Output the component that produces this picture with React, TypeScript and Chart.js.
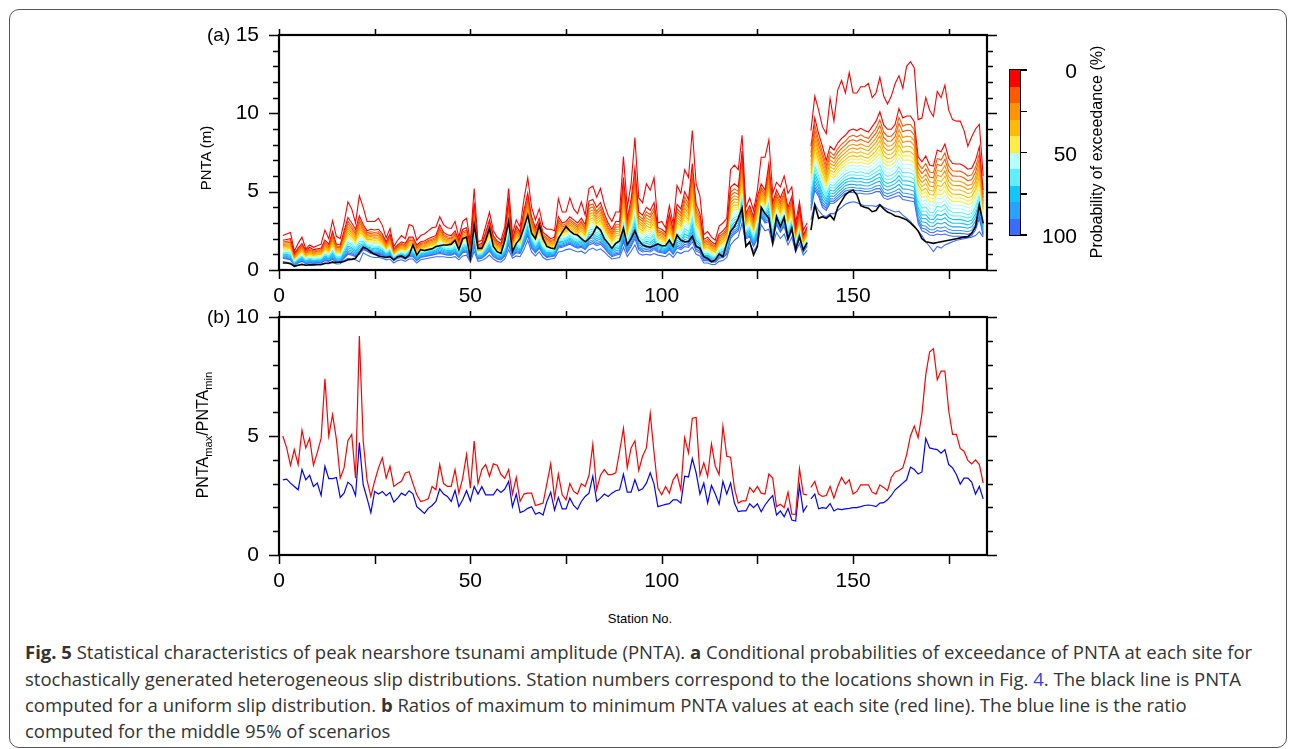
import React, { useEffect, useRef } from 'react';
import { Chart, registerables } from 'chart.js';

Chart.register(...registerables);

// ---------------- data ----------------
// stations are numbered 1..184; the curves break between station 138 and 139
const BREAK_AFTER = 138;
const X_MAX = 185;
const X_TICKS = [0, 25, 50, 75, 100, 125, 150, 175];
const X_LABELS = [0, 50, 100, 150];
const Y_TICKS_A = [0, 1, 2, 3, 4, 5, 6, 7, 8, 9, 10, 11, 12, 13, 14, 15];
const Y_LABELS_A = [0, 5, 10, 15];
const Y_TICKS_B = [0, 1, 2, 3, 4, 5, 6, 7, 8, 9, 10];
const Y_LABELS_B = [0, 5, 10];
const COLORBAR_LABELS = ['0', '50', '100'];

// panel (a): PNTA (m) — 0 % exceedance (maximum)
const MAX_PNTA = [
  2.2, 2.3, 2.4, 1.2, 1.7, 2.1, 1.35, 1.6, 1.45, 1.55,
  1.65, 2.55, 2.0, 3.15, 2.15, 2.0, 3.0, 4.35, 3.9, 3.0,
  4.75, 4.0, 3.1, 3.1, 3.1, 3.3, 2.85, 2.05, 2.65, 1.5,
  1.9, 2.2, 2.0, 2.9, 2.8, 1.9, 2.2, 2.3, 2.5, 2.7,
  2.75, 3.4, 2.9, 2.7, 2.65, 3.1, 2.1, 3.1, 3.3, 1.8,
  5.2, 1.8, 1.9, 2.8, 3.7, 2.5, 2.1, 1.9, 2.75, 5.2,
  2.3, 3.2, 2.75, 4.5, 5.9, 4.0, 3.2, 3.9, 2.8, 2.6,
  2.6, 2.5, 4.55, 3.7, 3.7, 4.6, 3.9, 3.6, 4.35, 3.5,
  5.2, 5.35, 4.65, 5.2, 4.2, 3.5, 3.1, 3.7, 3.7, 7.25,
  4.0, 5.5, 8.45, 4.6, 4.3, 5.5, 5.1, 5.9, 3.0, 3.1,
  2.7, 4.1, 2.95, 5.4, 4.9, 6.4, 5.9, 8.9, 5.5, 4.7,
  2.25, 2.45, 2.1, 1.9, 2.8, 3.0, 3.3, 6.4, 6.7, 6.4,
  8.6, 4.0, 4.6, 3.8, 5.1, 7.2, 7.2, 8.3, 4.9, 5.6,
  5.3, 6.0, 4.9, 5.3, 3.0, 4.35, 2.55, 3.0,
  8.9, 11.1, 10.2, 9.15, 8.7, 10.95, 9.5, 11.5, 12.1, 11.3,
  12.6, 11.3, 11.3, 11.7, 11.7, 11.9, 11.0, 11.3, 12.3, 11.1,
  10.6, 11.1, 11.9, 12.4, 11.6, 13.0, 13.3, 12.9, 9.6, 9.7,
  11.0, 10.2, 9.8, 11.4, 11.0, 11.8, 10.2, 9.6, 9.5, 9.5,
  8.9, 7.9, 8.5, 9.0, 9.3, 6.0,
];

// 5 % exceedance
const P5_PNTA = [
  1.9, 1.95, 2.0, 1.05, 1.4, 1.7, 1.25, 1.45, 1.3, 1.35,
  1.4, 1.9, 1.65, 2.45, 1.65, 1.6, 2.5, 3.35, 3.0, 2.6,
  3.45, 2.9, 2.5, 2.6, 2.55, 2.6, 2.3, 1.8, 2.3, 1.35,
  1.6, 1.8, 1.7, 2.1, 2.1, 1.6, 1.8, 1.85, 2.0, 2.1,
  2.2, 2.9, 2.4, 2.25, 2.2, 2.5, 1.9, 2.6, 2.7, 1.6,
  4.3, 1.6, 1.7, 2.4, 3.2, 2.2, 1.85, 1.7, 2.4, 4.5,
  2.0, 2.8, 2.4, 3.8, 4.9, 3.4, 2.7, 3.3, 2.4, 2.2,
  2.0, 2.1, 3.4, 3.0, 3.1, 3.4, 3.2, 3.0, 3.3, 2.9,
  4.4, 4.5, 4.0, 4.3, 3.6, 3.0, 2.6, 3.1, 3.1, 5.9,
  3.3, 4.5, 6.5, 3.7, 3.5, 4.0, 3.8, 4.3, 2.7, 2.6,
  2.4, 3.6, 2.6, 4.2, 3.9, 5.0, 4.5, 6.8, 4.2, 3.6,
  1.95, 2.1, 1.8, 1.65, 2.3, 2.5, 2.8, 5.3, 5.5, 5.3,
  7.6, 3.6, 4.1, 3.4, 4.7, 5.5, 5.1, 6.8, 4.3, 5.1,
  4.6, 5.2, 4.0, 4.7, 2.66, 4.0, 2.23, 2.77,
  7.9, 9.7, 8.7, 7.9, 7.0, 7.9, 7.66, 8.1, 8.4, 8.6,
  8.9, 9.0, 8.9, 9.04, 8.9, 8.8, 9.15, 9.5, 10.1, 9.26,
  8.98, 8.98, 9.3, 10.3, 9.7, 9.83, 9.83, 9.47, 7.23, 6.9,
  7.28, 6.7, 6.64, 7.66, 7.55, 8.04, 7.13, 6.8, 6.77, 6.77,
  6.64, 6.43, 6.5, 7.0, 7.87, 5.1,
];

// 95 % exceedance
const P95_PNTA = [
  0.75, 0.7, 0.65, 0.3, 0.45, 0.55, 0.4, 0.45, 0.42, 0.45,
  0.45, 0.6, 0.55, 0.68, 0.5, 0.5, 0.75, 1.0, 0.95, 0.85,
  1.0, 1.3, 1.2, 1.05, 1.0, 1.0, 0.95, 0.8, 0.9, 0.6,
  0.75, 0.8, 0.7, 0.85, 0.85, 0.6, 0.8, 0.85, 0.9, 0.95,
  1.0, 1.05, 1.0, 0.95, 0.95, 1.05, 0.8, 1.1, 1.15, 0.6,
  1.5, 0.7, 0.75, 0.95, 1.2, 0.85, 0.7, 0.65, 0.9, 1.6,
  0.9, 1.1, 1.05, 1.6, 2.2, 1.4, 1.1, 1.4, 1.0, 0.8,
  0.85, 0.9, 1.4, 1.45, 1.55, 1.65, 1.5, 1.4, 1.45, 1.3,
  1.6, 1.7, 1.55, 1.65, 1.4, 1.1, 0.85, 0.95, 1.0, 1.8,
  1.1, 1.5, 2.0, 1.3, 1.15, 1.2, 1.15, 1.3, 1.15, 1.1,
  1.05, 1.3, 1.0, 1.4, 1.3, 1.5, 1.45, 1.8, 1.2, 1.1,
  0.6, 0.6, 0.5, 0.5, 0.75, 0.8, 1.0, 2.0, 2.3, 2.5,
  3.6, 2.0, 2.1, 1.5, 2.0, 3.4, 3.0, 3.1, 1.9, 2.9,
  2.4, 2.8, 1.9, 2.5, 1.4, 2.0, 1.15, 1.5,
  3.8, 5.1, 4.7, 4.0, 3.8, 4.26, 4.26, 4.47, 4.68, 4.9,
  4.95, 4.95, 4.9, 4.9, 4.85, 4.85, 4.9, 5.0, 5.0, 4.6,
  4.5, 4.6, 4.68, 4.75, 4.5, 4.45, 4.4, 4.36, 3.0, 2.5,
  2.4, 2.23, 2.2, 2.3, 2.25, 2.3, 2.2, 2.15, 2.15, 2.15,
  2.13, 2.1, 2.2, 2.55, 3.3, 2.2,
];

// 100 % exceedance (minimum)
const MIN_PNTA = [
  0.55, 0.5, 0.45, 0.2, 0.3, 0.4, 0.3, 0.32, 0.32, 0.33,
  0.33, 0.4, 0.4, 0.5, 0.38, 0.4, 0.6, 0.75, 0.7, 0.65,
  0.52, 1.1, 0.95, 0.85, 0.8, 0.8, 0.75, 0.65, 0.7, 0.45,
  0.6, 0.65, 0.55, 0.7, 0.7, 0.45, 0.65, 0.7, 0.75, 0.8,
  0.85, 0.85, 0.85, 0.8, 0.8, 0.85, 0.65, 0.9, 0.95, 0.5,
  1.2, 0.55, 0.6, 0.75, 0.95, 0.7, 0.55, 0.5, 0.7, 1.3,
  0.75, 0.9, 0.85, 1.3, 1.9, 1.15, 0.9, 1.15, 0.8, 0.65,
  0.7, 0.75, 1.15, 1.2, 1.3, 1.35, 1.25, 1.15, 1.2, 1.05,
  1.3, 1.4, 1.25, 1.35, 1.15, 0.9, 0.7, 0.75, 0.8, 1.45,
  0.85, 1.2, 1.6, 1.05, 0.95, 1.0, 0.95, 1.05, 0.95, 0.9,
  0.85, 1.05, 0.8, 1.15, 1.05, 1.2, 1.2, 1.45, 1.0, 0.9,
  0.45, 0.45, 0.35, 0.35, 0.55, 0.6, 0.8, 1.6, 1.9, 2.1,
  3.0, 1.6, 1.7, 1.2, 1.6, 2.9, 2.5, 2.6, 1.6, 2.4,
  2.0, 2.3, 1.6, 2.1, 1.15, 1.7, 0.95, 1.25,
  3.2, 4.2, 3.8, 3.5, 3.4, 3.6, 3.6, 3.8, 4.0, 4.2,
  4.3, 4.36, 4.3, 4.2, 4.1, 4.1, 4.1, 4.05, 4.2, 4.0,
  3.9, 3.8, 3.7, 3.75, 3.5, 3.3, 3.1, 2.8, 2.5, 2.2,
  1.8, 1.5, 1.17, 1.5, 1.4, 1.6, 1.7, 1.8, 1.9, 1.95,
  2.0, 2.05, 2.1, 2.2, 2.45, 2.1,
];

// PNTA for a uniform slip distribution (black line)
const UNIFORM_PNTA = [
  0.45, 0.45, 0.4, 0.25, 0.3, 0.35, 0.3, 0.33, 0.33, 0.35,
  0.35, 0.43, 0.45, 0.5, 0.48, 0.5, 0.55, 0.65, 0.68, 0.75,
  1.1, 1.45, 1.35, 1.15, 1.0, 0.9, 0.85, 0.8, 0.85, 0.65,
  0.85, 0.9, 0.75, 0.95, 1.6, 0.95, 1.3, 1.25, 1.3, 1.35,
  1.5, 1.55, 1.6, 1.6, 1.65, 1.9, 1.3, 2.0, 2.1, 0.75,
  2.87, 1.38, 1.38, 1.9, 2.66, 1.5, 1.17, 1.06, 1.9, 3.1,
  1.17, 1.7, 2.0, 2.7, 3.5, 2.34, 2.0, 2.87, 2.0, 1.5,
  1.4, 1.35, 2.0, 2.4, 2.77, 2.5, 2.3, 2.23, 2.0, 1.8,
  2.0, 2.3, 2.77, 2.55, 2.0, 1.7, 1.38, 1.7, 1.85, 2.66,
  1.6, 2.0, 2.5, 1.9, 1.6, 1.5, 1.45, 1.55, 1.66, 1.55,
  1.55, 1.9, 1.5, 2.23, 1.9, 1.8, 1.8, 2.17, 1.5, 1.38,
  0.85, 0.74, 0.53, 0.64, 1.02, 0.85, 1.7, 2.45, 2.77, 3.3,
  3.94, 1.5, 1.8, 0.96, 1.5, 4.0, 3.6, 3.3, 1.74, 3.4,
  2.77, 3.36, 2.0, 2.66, 1.28, 2.13, 1.28, 1.74,
  2.55, 4.15, 3.3, 3.4, 3.3, 3.5, 3.2, 4.0, 4.4, 4.8,
  5.0, 5.1, 4.8, 4.1, 4.0, 3.94, 3.72, 3.8, 4.15, 3.9,
  3.7, 3.6, 3.45, 3.4, 3.3, 3.2, 3.0, 2.77, 2.5, 2.0,
  1.8, 1.75, 1.7, 1.75, 1.8, 1.85, 1.9, 1.95, 2.0, 2.05,
  2.1, 2.13, 2.34, 2.77, 4.15, 2.98,
];

// relative position of the 10 %..90 % curves between the 5 % and 95 % curves
// (read off the well separated curves near station 150)
const QUANTILE_LEVELS = [10, 15, 20, 25, 30, 35, 40, 45, 50, 55, 60, 65, 70, 75, 80, 85, 90];
const QUANTILE_POS = [0.1, 0.17, 0.24, 0.3, 0.36, 0.42, 0.47, 0.52, 0.57, 0.62, 0.67, 0.72, 0.77, 0.82, 0.87, 0.92, 0.96];

// colour classes of the colour bar, 0-10 % ... 90-100 %
const CLASS_COLORS = [
  '#ff0000', '#ff5a00', '#ff9400', '#ffbb00', '#ffec40',
  '#b4ffff', '#5ef0ff', '#10c8ff', '#26a2ff', '#3a6cff',
];

// panel (b): ratio of maximum to minimum PNTA (red) and middle 95 % ratio (blue)
const RATIO_MAX_MIN = [
  5.0, 4.5, 3.77, 4.43, 3.8, 5.24, 4.5, 4.9, 3.77, 4.3,
  4.9, 7.4, 5.0, 5.9, 4.86, 3.23, 3.66, 4.8, 5.07, 3.23,
  9.2, 4.8, 3.16, 2.46, 3.1, 3.66, 4.08, 3.23, 3.73, 2.88,
  3.0, 3.1, 3.45, 3.5, 3.0, 2.53, 2.25, 2.29, 2.36, 2.88,
  2.74, 3.8, 3.0, 2.88, 2.88, 3.59, 2.6, 3.23, 4.22, 2.81,
  4.79, 3.0, 3.59, 3.8, 3.3, 3.83, 3.77, 3.38, 3.23, 3.59,
  2.56, 3.26, 2.25, 2.56, 2.6, 2.6, 2.08, 2.13, 2.18, 3.0,
  3.83, 2.39, 3.4, 2.53, 2.32, 3.0, 2.67, 2.56, 3.0, 2.88,
  3.35, 4.65, 2.74, 3.35, 3.59, 3.38, 3.38, 3.45, 4.36, 5.32,
  3.66, 4.5, 4.79, 3.55, 4.15, 4.5, 5.95, 4.3, 2.81, 2.53,
  2.88, 2.6, 3.16, 3.4, 2.74, 4.93, 4.29, 5.75, 5.78, 3.35,
  3.87, 3.3, 4.67, 3.73, 3.38, 5.41, 4.15, 4.11, 2.81, 2.18,
  2.27, 2.27, 2.84, 2.64, 2.88, 2.6, 2.56, 3.4, 3.23, 2.03,
  2.13, 1.99, 2.64, 1.72, 1.71, 3.63, 2.56, 2.53,
  2.84, 3.09, 2.56, 2.46, 2.5, 2.88, 2.39, 2.88, 3.26, 2.98,
  3.16, 2.56, 2.67, 2.95, 2.95, 2.95, 2.64, 2.56, 2.95, 2.84,
  2.7, 3.26, 3.49, 3.55, 3.66, 4.22, 5.0, 5.42, 4.93, 5.92,
  7.58, 8.53, 8.67, 7.36, 7.73, 7.73, 6.06, 5.07, 5.07, 4.48,
  4.36, 3.97, 3.83, 4.0, 3.8, 3.02,
];

const RATIO_MID95 = [
  3.16, 3.19, 3.02, 2.88, 2.74, 3.59, 3.16, 3.35, 2.88, 3.02,
  2.5, 3.73, 3.21, 3.21, 3.26, 2.42, 2.6, 3.06, 2.92, 2.5,
  4.72, 2.95, 2.39, 1.78, 2.67, 2.56, 2.67, 2.49, 2.63, 2.22,
  2.39, 2.6, 2.5, 2.7, 2.57, 2.03, 1.89, 1.75, 1.96, 2.08,
  2.25, 2.78, 2.56, 2.46, 2.25, 2.71, 2.03, 2.32, 2.7, 2.27,
  2.88, 2.56, 2.87, 2.53, 2.53, 2.53, 2.77, 2.63, 2.77, 3.09,
  2.03, 2.56, 1.78, 1.85, 1.96, 2.03, 1.71, 1.79, 1.68, 2.25,
  2.64, 1.89, 2.42, 1.94, 1.94, 2.39, 2.08, 1.92, 2.25, 2.46,
  2.6, 3.31, 2.25, 2.39, 2.56, 2.46, 2.6, 2.7, 2.74, 3.4,
  2.64, 2.64, 3.16, 2.7, 2.78, 3.02, 3.45, 2.98, 2.03, 2.08,
  2.13, 2.16, 2.32, 2.32, 2.18, 3.31, 3.28, 4.05, 3.45, 2.56,
  3.02, 2.18, 2.92, 2.56, 2.13, 3.09, 2.56, 3.02, 2.18, 1.82,
  1.85, 1.85, 2.15, 1.99, 2.15, 1.82, 2.1, 2.32, 2.5, 1.68,
  1.85, 1.61, 1.96, 1.47, 1.43, 2.92, 1.82, 2.08,
  2.36, 2.56, 1.94, 1.99, 1.96, 2.16, 1.85, 1.94, 1.91, 1.94,
  1.96, 1.99, 1.99, 2.03, 2.08, 2.1, 2.08, 2.03, 2.18, 2.2,
  2.32, 2.5, 2.74, 2.88, 3.02, 3.16, 3.69, 3.59, 3.4, 3.49,
  4.9, 4.5, 4.46, 4.43, 4.28, 4.43, 3.8, 3.66, 3.38, 2.98,
  3.23, 3.23, 3.06, 2.56, 2.88, 2.36,
];

// ---------------- helpers ----------------
const FONT = "'Liberation Sans', Arial, Helvetica, sans-serif";

function toPoints(values: number[]) {
  const pts: { x: number; y: number | null }[] = [];
  values.forEach((v, i) => {
    const station = i + 1;
    if (station === BREAK_AFTER + 1) pts.push({ x: BREAK_AFTER + 0.5, y: null });
    pts.push({ x: station, y: v });
  });
  return pts;
}

function classColor(level: number) {
  return CLASS_COLORS[Math.min(9, Math.floor(level / 10))];
}

function quantileCurve(k: number) {
  return P5_PNTA.map((v, i) => v + (P95_PNTA[i] - v) * QUANTILE_POS[k]);
}

const frameTicksPlugin = {
  id: 'frameTicks',
  afterDraw(chart: any, _args: any, opts: any) {
    const { ctx, chartArea: a, scales } = chart;
    const xs = scales.x;
    const ys = scales.y;
    ctx.save();
    ctx.strokeStyle = '#000';
    ctx.lineWidth = 1.5;
    ctx.beginPath();
    for (const v of opts.xTicks) {
      const px = Math.round(xs.getPixelForValue(v)) + 0.5;
      ctx.moveTo(px, a.top);
      ctx.lineTo(px, a.top - 6);
      ctx.moveTo(px, a.bottom);
      ctx.lineTo(px, a.bottom + 9);
    }
    for (const v of opts.yTicks) {
      const py = Math.round(ys.getPixelForValue(v)) + 0.5;
      const len = v % 5 === 0 ? 10 : 6;
      ctx.moveTo(a.left, py);
      ctx.lineTo(a.left - len, py);
      ctx.moveTo(a.right, py);
      ctx.lineTo(a.right + len, py);
    }
    ctx.stroke();
    ctx.lineWidth = 2.2;
    ctx.strokeRect(a.left, a.top, a.right - a.left, a.bottom - a.top);
    ctx.restore();
  },
};

function makeOptions(yMax: number, yLabels: number[], yTicks: number[], xHeight: number) {
  const tickFont = { family: FONT, size: 21 };
  return {
    responsive: false,
    maintainAspectRatio: false,
    animation: false,
    events: [],
    layout: { padding: { top: 15, right: 63, left: 0, bottom: 0 } },
    plugins: {
      legend: { display: false },
      tooltip: { enabled: false },
      frameTicks: { xTicks: X_TICKS, yTicks },
    },
    elements: { point: { radius: 0 }, line: { tension: 0 } },
    scales: {
      x: {
        type: 'linear',
        min: 0,
        max: X_MAX,
        grid: { display: false, drawTicks: false },
        border: { display: false },
        ticks: { padding: 14, font: tickFont, color: '#000', maxRotation: 0, autoSkip: false },
        afterBuildTicks: (s: any) => { s.ticks = X_LABELS.map((v) => ({ value: v })); },
        afterFit: (s: any) => {
          s.height = xHeight;
          s.paddingLeft = 0;
          s.paddingRight = 0;
        },
      },
      y: {
        type: 'linear',
        min: 0,
        max: yMax,
        grid: { display: false, drawTicks: false },
        border: { display: false },
        ticks: { padding: 20, font: tickFont, color: '#000', autoSkip: false },
        afterBuildTicks: (s: any) => { s.ticks = yLabels.map((v) => ({ value: v })); },
        afterFit: (s: any) => {
          s.width = 129;
          s.paddingTop = 0;
          s.paddingBottom = 0;
        },
      },
    },
  };
}

function buildPanelA() {
  const datasets: any[] = [];
  datasets.push({ data: toPoints(UNIFORM_PNTA), borderColor: '#000', borderWidth: 1.6 });
  datasets.push({ data: toPoints(MAX_PNTA), borderColor: classColor(0), borderWidth: 1.1 });
  datasets.push({ data: toPoints(P5_PNTA), borderColor: classColor(5), borderWidth: 1.1 });
  QUANTILE_LEVELS.forEach((lvl, k) => {
    datasets.push({ data: toPoints(quantileCurve(k)), borderColor: classColor(lvl), borderWidth: 1.1 });
  });
  datasets.push({ data: toPoints(P95_PNTA), borderColor: classColor(95), borderWidth: 1.1 });
  datasets.push({ data: toPoints(MIN_PNTA), borderColor: classColor(100), borderWidth: 1.1 });
  datasets.forEach((d) => { d.pointRadius = 0; d.fill = false; d.spanGaps = false; });
  return {
    type: 'line',
    data: { datasets },
    options: makeOptions(15, Y_LABELS_A, Y_TICKS_A, 50),
    plugins: [frameTicksPlugin],
  };
}

function buildPanelB() {
  const datasets: any[] = [
    { data: toPoints(RATIO_MAX_MIN), borderColor: '#ff0000', borderWidth: 1.2 },
    { data: toPoints(RATIO_MID95), borderColor: '#0000ff', borderWidth: 1.2 },
  ];
  datasets.forEach((d) => { d.pointRadius = 0; d.fill = false; d.spanGaps = false; });
  return {
    type: 'line',
    data: { datasets },
    options: makeOptions(10, Y_LABELS_B, Y_TICKS_B, 49),
    plugins: [frameTicksPlugin],
  };
}

function Rotated({ cx, cy, size, children }: { cx: number; cy: number; size: number; children: any }) {
  return (
    <div
      style={{
        position: 'absolute',
        left: cx,
        top: cy,
        transform: 'translate(-50%, -50%) rotate(-90deg)',
        whiteSpace: 'nowrap',
        fontFamily: FONT,
        fontSize: size,
        lineHeight: 1,
        color: '#000',
      }}
    >
      {children}
    </div>
  );
}

export default function App() {
  const refA = useRef<HTMLCanvasElement>(null);
  const refB = useRef<HTMLCanvasElement>(null);

  useEffect(() => {
    const a = new Chart(refA.current as HTMLCanvasElement, buildPanelA() as any);
    const b = new Chart(refB.current as HTMLCanvasElement, buildPanelB() as any);
    return () => {
      a.destroy();
      b.destroy();
    };
  }, []);

  const barTop = 70;
  const barH = 165;
  const capStyle: any = {
    position: 'absolute',
    left: 25,
    whiteSpace: 'nowrap',
    fontFamily: "'Open Sans', 'Noto Sans', sans-serif",
    fontSize: 18.5,
    color: '#333',
    lineHeight: '26px',
  };
  const capCenters = [652, 679, 705, 731];

  return (
    <div style={{ position: 'fixed', left: 0, top: 0, width: 1295, height: 749, background: '#fff', overflow: 'hidden' }}>
      <div
        style={{
          position: 'absolute', left: 9, top: 9, width: 1278, height: 739,
          border: '1px solid #555', borderRadius: 10, boxSizing: 'border-box',
        }}
      />
      <canvas ref={refA} width={900} height={300} style={{ position: 'absolute', left: 150, top: 20 }} />
      <canvas ref={refB} width={900} height={302} style={{ position: 'absolute', left: 150, top: 302 }} />

      <div style={{ position: 'absolute', left: 207, top: 25, fontFamily: FONT, fontSize: 19, lineHeight: '20px' }}>(a)</div>
      <div style={{ position: 'absolute', left: 207, top: 307, fontFamily: FONT, fontSize: 19, lineHeight: '20px' }}>(b)</div>

      <Rotated cx={205} cy={158} size={15}>PNTA (m)</Rotated>
      <Rotated cx={205} cy={435} size={16}>
        PNTA<sub style={{ fontSize: '0.7em' }}>max</sub>/PNTA<sub style={{ fontSize: '0.7em' }}>min</sub>
      </Rotated>
      <div style={{ position: 'absolute', left: 640, top: 618, transform: 'translate(-50%, -50%)', fontFamily: FONT, fontSize: 13, whiteSpace: 'nowrap' }}>
        Station No.
      </div>

      {/* colour bar */}
      {CLASS_COLORS.map((c, i) => (
        <div key={i} style={{ position: 'absolute', left: 1010, top: barTop + (i * barH) / 10, width: 10, height: barH / 10 + 0.5, background: c }} />
      ))}
      <div style={{ position: 'absolute', left: 1009, top: barTop - 1, width: 12, height: barH + 2, border: '1.5px solid #000', boxSizing: 'border-box' }} />
      {[0, 0.25, 0.5, 0.75, 1].map((f, i) => (
        <div key={i} style={{ position: 'absolute', left: 1021, top: barTop + f * barH - 0.75, width: 6, height: 1.5, background: '#000' }} />
      ))}
      {COLORBAR_LABELS.map((t, i) => (
        <div key={t} style={{ position: 'absolute', left: 1077, top: barTop + i * barH / 2, transform: 'translate(-100%, -50%)', fontFamily: FONT, fontSize: 21, lineHeight: 1 }}>
          {t}
        </div>
      ))}
      <Rotated cx={1097} cy={152} size={16}>Probability of exceedance (%)</Rotated>

      {/* caption */}
      <div style={{ ...capStyle, top: capCenters[0] - 13 }}>
        <b>Fig. 5</b> Statistical characteristics of peak nearshore tsunami amplitude (PNTA). <b>a</b> Conditional probabilities of exceedance of PNTA at each site for
      </div>
      <div style={{ ...capStyle, top: capCenters[1] - 13 }}>
        stochastically generated heterogeneous slip distributions. Station numbers correspond to the locations shown in Fig. <span style={{ color: '#3344dd' }}>4</span>. The black line is PNTA
      </div>
      <div style={{ ...capStyle, top: capCenters[2] - 13 }}>
        computed for a uniform slip distribution. <b>b</b> Ratios of maximum to minimum PNTA values at each site (red line). The blue line is the ratio
      </div>
      <div style={{ ...capStyle, top: capCenters[3] - 13 }}>computed for the middle 95% of scenarios</div>
    </div>
  );
}
